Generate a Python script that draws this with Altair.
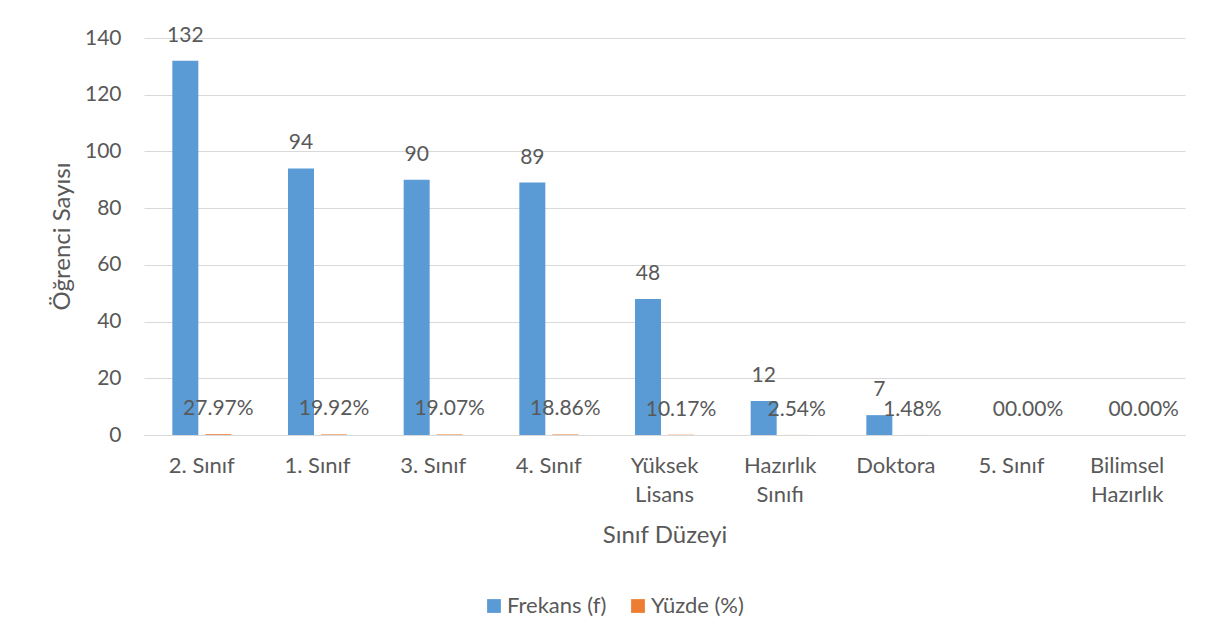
import altair as alt
import pandas as pd

categories = ["2. Sınıf", "1. Sınıf", "3. Sınıf", "4. Sınıf", "Yüksek Lisans",
              "Hazırlık Sınıfı", "Doktora", "5. Sınıf", "Bilimsel Hazırlık"]
frekans = [132, 94, 90, 89, 48, 12, 7, 0, 0]
yuzde = [0.2797, 0.1992, 0.1907, 0.1886, 0.1017, 0.0254, 0.0148, 0.0, 0.0]
series = ["Frekans (f)", "Yüzde (%)"]
colors = ["#5B9BD5", "#ED7D31"]

rows = []
for c, f, p in zip(categories, frekans, yuzde):
    rows.append({"cat": c, "series": series[0], "value": f,
                 "label": str(f) if f > 0 else ""})
    rows.append({"cat": c, "series": series[1], "value": p,
                 "label": ("00.00%" if p == 0 else f"{p*100:.2f}%")})
df = pd.DataFrame(rows)

FONT = "Lato"
TXT = "#595959"

x = alt.X("cat:N", sort=categories, title="Sınıf Düzeyi",
          scale=alt.Scale(paddingInner=0.49, paddingOuter=0.245),
          axis=alt.Axis(labelAngle=0, ticks=False, domainColor="#D9D9D9",
                        labelPadding=20, labelLineHeight=29, labelFontSize=22,
                        labelColor=TXT, labelFont=FONT,
                        labelExpr="length(split(datum.label, ' ')) > 1 && !test(/^[0-9]/, datum.label) ? split(datum.label, ' ') : datum.label",
                        titleFontSize=24, titleColor=TXT, titleFont=FONT,
                        titleFontWeight="normal", titleY=100, titleBaseline="middle"))
xo = alt.XOffset("series:N", sort=series, scale=alt.Scale(paddingInner=0.212))
y = alt.Y("value:Q", title="Öğrenci Sayısı",
          scale=alt.Scale(domain=[0, 140], nice=False),
          axis=alt.Axis(values=[0, 20, 40, 60, 80, 100, 120, 140], ticks=False,
                        domain=False, gridColor="#D9D9D9", labelPadding=23,
                        labelFontSize=21, labelColor=TXT, labelFont=FONT,
                        titleFontSize=24, titleColor=TXT, titleFont=FONT,
                        titleFontWeight="normal", titleX=-82, titleY=198,
                        titleBaseline="middle", titleAlign="center"))

bars = alt.Chart(df).mark_bar().encode(
    x=x, xOffset=xo, y=y,
    color=alt.Color("series:N", sort=series,
                    scale=alt.Scale(domain=series, range=colors),
                    legend=alt.Legend(title=None, orient="none", direction="horizontal",
                                      legendX=339, legendY=557, symbolType="square",
                                      symbolSize=190, symbolStrokeWidth=0,
                                      labelFontSize=22, labelColor=TXT, labelFont=FONT,
                                      labelOffset=2, columnPadding=20)),
)

texts = alt.Chart(df).transform_filter("datum.label != ''").mark_text(
    dy=-25, baseline="middle", fontSize=21, font=FONT, color=TXT
).encode(x=alt.X("cat:N", sort=categories), xOffset=alt.XOffset("series:N", sort=series),
         y=alt.Y("value:Q"), text="label:N")

chart = alt.layer(bars, texts).properties(
    width=1041, height=397,
    autosize=alt.AutoSizeParams(type="none"),
    padding={"left": 136, "top": 30, "right": 16, "bottom": 190},
).configure(background="white", view=alt.ViewConfig(stroke=None))

chart.save("out.html", embed_options={"renderer": "svg", "actions": False})
